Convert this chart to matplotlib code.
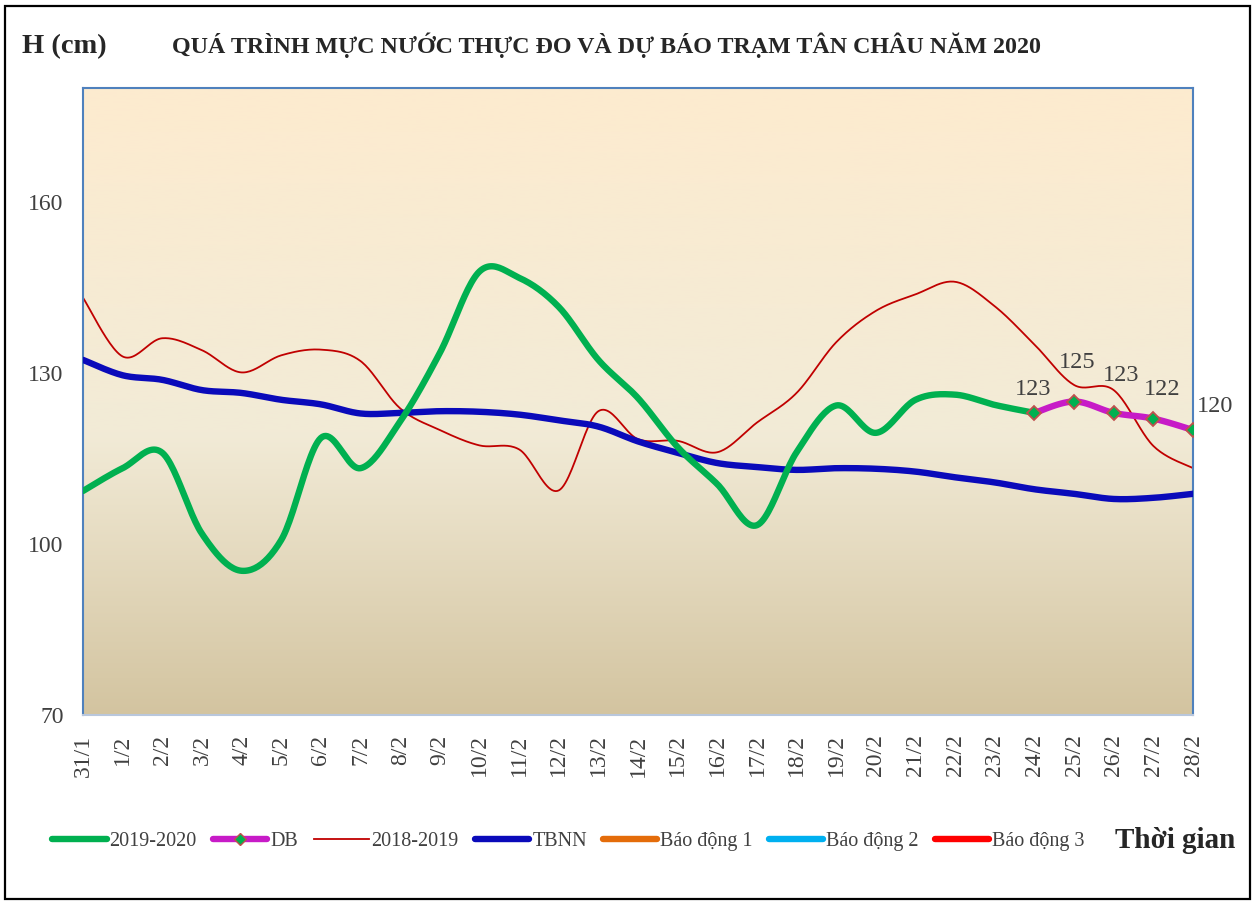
import numpy as np
import matplotlib
matplotlib.use("Agg")
import matplotlib.pyplot as plt
from matplotlib.lines import Line2D
from matplotlib.patches import Rectangle
from matplotlib.colors import LinearSegmentedColormap

plt.rcParams['font.family'] = ['Liberation Serif', 'DejaVu Serif']

# ---------------- data ----------------
dates = ['31/1', '1/2', '2/2', '3/2', '4/2', '5/2', '6/2', '7/2', '8/2', '9/2',
         '10/2', '11/2', '12/2', '13/2', '14/2', '15/2', '16/2', '17/2', '18/2',
         '19/2', '20/2', '21/2', '22/2', '23/2', '24/2', '25/2', '26/2', '27/2', '28/2']

obs_2019_2020 = [109.3, 113.3, 116.0, 101.8, 95.3, 100.7, 118.6, 113.3, 121.5, 133.5,
                 147.8, 146.7, 141.6, 132.3, 125.6, 117.0, 110.5, 103.3, 116.1,
                 124.3, 119.5, 125.3, 126.2, 124.4, 123.0]

db_dates = ['24/2', '25/2', '26/2', '27/2', '28/2']
db_values = [123, 125, 123, 122, 120]

obs_2018_2019 = [143.2, 132.9, 136.1, 134.0, 130.1, 133.1, 134.1, 132.1, 123.8, 120.0,
                 117.3, 116.6, 109.4, 123.3, 118.4, 118.1, 116.1, 121.3, 126.5,
                 135.4, 140.9, 143.8, 146.0, 141.7, 135.0, 127.9, 127.0, 117.2, 113.3]

tbnn = [132.3, 129.6, 128.8, 127.0, 126.5, 125.3, 124.5, 122.9, 123.0, 123.3,
        123.2, 122.7, 121.7, 120.6, 118.0, 116.0, 114.2, 113.5, 113.0, 113.3,
        113.2, 112.7, 111.7, 110.8, 109.6, 108.8, 107.9, 108.1, 108.8]

y_ticks = [70, 100, 130, 160]
legend_labels = ['2019-2020', 'DB', '2018-2019', 'TBNN', 'Báo động 1', 'Báo động 2', 'Báo động 3']
title = 'QUÁ TRÌNH MỰC NƯỚC THỰC ĐO VÀ DỰ BÁO TRẠM TÂN CHÂU NĂM 2020'

# ---------------- helpers ----------------
def smooth(xs, ys, n=24):
    xs = np.asarray(xs, float); ys = np.asarray(ys, float)
    P = np.column_stack([xs, ys])
    m = len(P)
    out = [P[0]]
    t = np.linspace(0, 1, n + 1)[1:]
    for i in range(m - 1):
        p0 = P[i - 1] if i > 0 else P[i]
        p1 = P[i]; p2 = P[i + 1]
        p3 = P[i + 2] if i + 2 < m else P[i + 1]
        c1 = p1 + (p2 - p0) / 6.0
        c2 = p2 - (p3 - p1) / 6.0
        for tt in t:
            b = ((1 - tt) ** 3) * p1 + 3 * ((1 - tt) ** 2) * tt * c1 + 3 * (1 - tt) * tt ** 2 * c2 + tt ** 3 * p2
            out.append(b)
    out = np.array(out)
    return out[:, 0], out[:, 1]

W, H = 1259, 901
fig = plt.figure(figsize=(W / 100, H / 100), dpi=100)
fig.patch.set_facecolor('white')

L, R, T, B = 83, 1193, 88, 715
ax = fig.add_axes([L / W, 1 - B / H, (R - L) / W, (B - T) / H])

x_all = np.arange(len(dates))
idx = {d: i for i, d in enumerate(dates)}

ax.set_xlim(0, len(dates) - 1)
ax.set_ylim(70, 180)

# gradient background
cmap = LinearSegmentedColormap.from_list('bg', [(0.0, '#D3C4A0'), (0.45, '#F2EBD7'), (1.0, '#FDEBCF')])
grad = np.linspace(0, 1, 256).reshape(-1, 1)
ax.imshow(grad, aspect='auto', cmap=cmap, origin='lower',
          extent=[0, len(dates) - 1, 70, 180], zorder=0, interpolation='bicubic')

# series
xr, yr = smooth(x_all, obs_2018_2019)
ax.plot(xr, yr, color='#C00000', lw=1.3, zorder=2, solid_capstyle='round')
xb, yb = smooth(x_all, tbnn)
ax.plot(xb, yb, color='#0A0ABA', lw=4.6, zorder=3, solid_capstyle='round')
xg, yg = smooth(x_all[:len(obs_2019_2020)], obs_2019_2020)
ax.plot(xg, yg, color='#00B050', lw=4.6, zorder=4, solid_capstyle='round')
xdb = [idx[d] for d in db_dates]
xd, yd = smooth(xdb, db_values)
ax.plot(xd, yd, color='#C71BC7', lw=4.6, zorder=5, solid_capstyle='round')
ax.plot(xdb, db_values, linestyle='none', marker='D', markersize=7.5,
        markerfacecolor='#00B050', markeredgecolor='#C0504D', markeredgewidth=1.3, zorder=6)

label_offsets = [(-1, 17), (2, 28), (5, 27), (6, 21), (16, 17)]
for xv, v, off in zip(xdb, db_values, label_offsets):
    ax.annotate(str(v), (xv, v), xytext=off, textcoords='offset points',
                ha='center', va='center', fontsize=17.5, color='#404040', zorder=7,
                annotation_clip=False)

# axes styling
ax.set_yticks(y_ticks)
ax.set_xticks(x_all)
ax.set_xticklabels(dates, rotation=90, fontsize=17, color='#404040')
ax.tick_params(axis='y', labelsize=17, colors='#404040', length=0, pad=14)
ax.tick_params(axis='x', length=0, pad=14)
for s in ['left', 'right', 'top']:
    ax.spines[s].set_color('#4F81BD'); ax.spines[s].set_linewidth(1.5)
ax.spines['bottom'].set_color('#B9C7DC'); ax.spines['bottom'].set_linewidth(1.5)
for lab in ax.get_yticklabels():
    lab.set_color('#404040')

# texts
fig.text(22 / W, 1 - 47 / H, 'H (cm)', fontsize=20.5, fontweight='bold', ha='left', va='center', color='#262626')
fig.text(606 / W, 1 - 45 / H, title, fontsize=17.3, fontweight='bold', ha='center', va='center', color='#262626')
fig.text(1175 / W, 1 - 841 / H, 'Thời gian', fontsize=21, fontweight='bold', ha='center', va='center', color='#262626')

# legend
handles = [
    Line2D([], [], color='#00B050', lw=4.6, solid_capstyle='round'),
    Line2D([], [], color='#C71BC7', lw=4.6, marker='D', markersize=6, solid_capstyle='round',
           markerfacecolor='#00B050', markeredgecolor='#C0504D'),
    Line2D([], [], color='#C00000', lw=1.3),
    Line2D([], [], color='#0A0ABA', lw=4.6, solid_capstyle='round'),
    Line2D([], [], color='#E46C0A', lw=4.6, solid_capstyle='round'),
    Line2D([], [], color='#00B0F0', lw=4.6, solid_capstyle='round'),
    Line2D([], [], color='#FF0000', lw=4.6, solid_capstyle='round'),
]
leg = fig.legend(handles, legend_labels, loc='center left', bbox_to_anchor=(34 / W, 1 - 841 / H),
                 ncol=7, frameon=False, fontsize=14.5, handlelength=2.7, handletextpad=0.15,
                 columnspacing=0.8, labelcolor='#404040')

# outer border
fig.add_artist(Rectangle((5 / W, 1 - 899 / H), 1245 / W, 893 / H, transform=fig.transFigure,
                         fill=False, edgecolor='black', lw=1.6))

fig.savefig('out.png', dpi=100)
